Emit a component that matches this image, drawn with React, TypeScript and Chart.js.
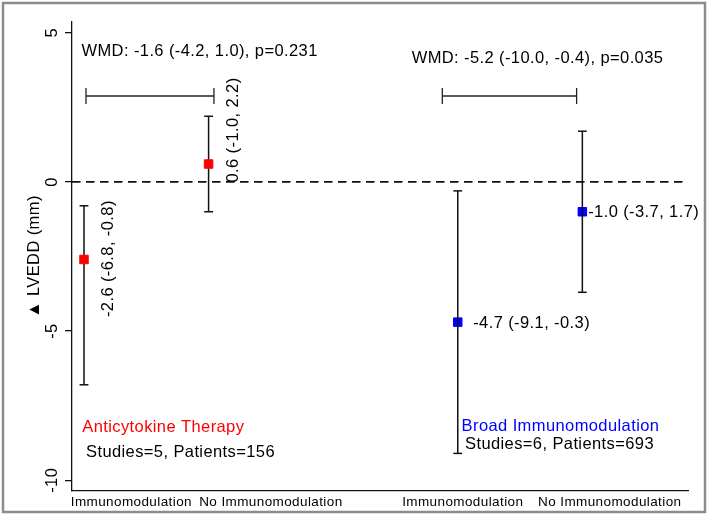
import React, { useEffect, useRef } from 'react';
import { Chart, registerables } from 'chart.js';

Chart.register(...registerables);

// ---- data ----
const groupLabels = ['Immunomodulation', 'No Immunomodulation', 'Immunomodulation', 'No Immunomodulation'];
const groupLabelPositions = [1.38, 2.5, 4.04, 5.22];
const armPositions = [1, 2, 4, 5];
const estimates = [-2.6, 0.6, -4.7, -1.0];
const lowerCI = [-6.8, -1.0, -9.1, -3.7];
const upperCI = [-0.8, 2.2, -0.3, 1.7];
const armGroup = [0, 0, 1, 1];
const estimateLabels = ['-2.6 (-6.8, -0.8)', '0.6 (-1.0, 2.2)', '-4.7 (-9.1, -0.3)', '-1.0 (-3.7, 1.7)'];
const yTicks = [-10, -5, 0, 5];
const comparisonStarts = [1.016, 3.876];
const comparisonEnds = [2.043, 4.954];
const comparisonLevel = 2.88;
const wmdLabels = ['WMD: -1.6 (-4.2, 1.0), p=0.231', 'WMD: -5.2 (-10.0, -0.4), p=0.035'];
const therapyNames = ['Anticytokine Therapy', 'Broad Immunomodulation'];
const therapyCounts = ['Studies=5, Patients=156', 'Studies=6, Patients=693'];
const referenceValue = 0;

// ---- styles / layout ----
const X_MIN = 0.9037;
const X_MAX = 5.848;
const Y_MIN = -10.36;
const Y_MAX = 5.36;
const FONT = '"Liberation Sans", Arial, Helvetica, sans-serif';
const SPACING = '0.4px';
const INK = '#000000';
const TEXT_SIZE = 16.5;
const groupColors = ['#FF0000', '#0000FF'];

type Note = { text: string; x: number; y: number; color?: string; rotate?: boolean };
const notes: Note[] = [
  { text: wmdLabels[0], x: 0.98, y: 4.23 },
  { text: wmdLabels[1], x: 3.63, y: 3.975 },
  { text: estimateLabels[0], x: 1.23, y: -4.53, rotate: true },
  { text: estimateLabels[1], x: 2.236, y: -0.02, rotate: true },
  { text: estimateLabels[2], x: 4.124, y: -4.886 },
  { text: estimateLabels[3], x: 5.047, y: -1.166 },
  { text: therapyNames[0], x: 0.986, y: -8.371, color: groupColors[0] },
  { text: therapyCounts[0], x: 1.016, y: -9.219 },
  { text: therapyNames[1], x: 4.031, y: -8.338, color: groupColors[1] },
  { text: therapyCounts[1], x: 4.058, y: -8.951 },
];

const spacingPlugin = {
  id: 'spacing',
  beforeInit(chart: any) { (chart.ctx as any).letterSpacing = SPACING; },
  beforeLayout(chart: any) { (chart.ctx as any).letterSpacing = SPACING; },
  beforeDraw(chart: any) { (chart.ctx as any).letterSpacing = SPACING; },
};

const notesPlugin = {
  id: 'notes',
  afterDatasetsDraw(chart: any) {
    const { ctx, scales } = chart;
    ctx.save();
    (ctx as any).letterSpacing = SPACING;
    ctx.font = `${TEXT_SIZE}px ${FONT}`;
    ctx.textBaseline = 'alphabetic';
    ctx.textAlign = 'left';
    for (const n of notes) {
      const px = scales.x.getPixelForValue(n.x);
      const py = scales.y.getPixelForValue(n.y);
      ctx.fillStyle = n.color || INK;
      if (n.rotate) {
        ctx.save();
        ctx.translate(px, py);
        ctx.rotate(-Math.PI / 2);
        ctx.fillText(n.text, 0, 0);
        ctx.restore();
      } else {
        ctx.fillText(n.text, px, py);
      }
    }
    ctx.restore();
  },
};

const framePlugin = {
  id: 'frame',
  afterDraw(chart: any) {
    const { ctx } = chart;
    ctx.save();
    ctx.strokeStyle = '#8c8c8c';
    ctx.lineWidth = 2.5;
    ctx.strokeRect(3, 3, 702, 509);
    ctx.restore();
  },
};

function buildDatasets() {
  const ds: any[] = [];
  // markers
  [0, 1].forEach((g) => {
    ds.push({
      label: g === 0 ? 'Anticytokine' : 'Broad',
      data: armPositions
        .map((x, i) => ({ x, y: estimates[i], g: armGroup[i] }))
        .filter((p) => p.g === g)
        .map((p) => ({ x: p.x, y: p.y })),
      showLine: false,
      pointStyle: 'rect',
      pointRadius: 6,
      pointBackgroundColor: groupColors[g],
      pointBorderColor: groupColors[g],
      pointBorderWidth: 1,
      order: g === 0 ? 0 : 3,
    });
  });
  // confidence intervals
  armPositions.forEach((x, i) => {
    ds.push({
      label: 'ci' + i,
      data: [
        { x, y: lowerCI[i] },
        { x, y: upperCI[i] },
      ],
      showLine: true,
      borderColor: '#111111',
      borderWidth: 1.5,
      pointStyle: 'line',
      pointRadius: 4.4,
      pointBorderWidth: 1.5,
      pointBorderColor: '#111111',
      order: armGroup[i] === 0 ? 2 : 1,
    });
  });
  // comparison brackets
  comparisonStarts.forEach((s, k) => {
    ds.push({
      label: 'cmp' + k,
      data: [
        { x: s, y: comparisonLevel },
        { x: comparisonEnds[k], y: comparisonLevel },
      ],
      showLine: true,
      borderColor: '#222222',
      borderWidth: 1.3,
      pointStyle: 'line',
      pointRotation: 90,
      pointRadius: 8,
      pointBorderWidth: 1.3,
      pointBorderColor: '#222222',
      order: 4,
    });
  });
  // reference line
  ds.push({
    label: 'ref',
    data: [
      { x: X_MIN, y: referenceValue },
      { x: X_MAX, y: referenceValue },
    ],
    showLine: true,
    borderColor: '#111111',
    borderWidth: 1.6,
    borderDash: [8.5, 5.5],
    pointRadius: 0,
    order: 5,
  });
  return ds;
}

export default function App() {
  const ref = useRef<HTMLCanvasElement>(null);
  useEffect(() => {
    document.body.style.margin = '0';
    Chart.defaults.font.family = FONT;
    const canvas = ref.current!;
    const chart = new Chart(canvas, {
      type: 'scatter',
      data: { datasets: buildDatasets() },
      options: {
        animation: false,
        responsive: false,
        devicePixelRatio: 1,
        events: [],
        layout: { padding: { left: 0, right: 21, top: 22, bottom: 0 } },
        plugins: { legend: { display: false }, tooltip: { enabled: false } },
        scales: {
          x: {
            type: 'linear',
            min: X_MIN,
            max: X_MAX,
            afterBuildTicks: (s: any) => {
              s.ticks = groupLabelPositions.map((v) => ({ value: v }));
            },
            afterFit: (s: any) => {
              s.height = 25;
            },
            ticks: {
              autoSkip: false,
              minRotation: 0,
              maxRotation: 0,
              padding: 3,
              color: INK,
              font: { size: 13.5, family: FONT },
              callback: (_v: any, i: number) => groupLabels[i],
            },
            grid: { display: false, drawTicks: false },
            border: { display: true, color: '#111111', width: 1.3 },
          },
          y: {
            type: 'linear',
            min: Y_MIN,
            max: Y_MAX,
            afterBuildTicks: (s: any) => {
              s.ticks = yTicks.map((v) => ({ value: v }));
            },
            afterFit: (s: any) => {
              s.width = 72;
            },
            ticks: {
              minRotation: 90,
              maxRotation: 90,
              crossAlign: 'center',
              padding: 0,
              color: INK,
              font: { size: TEXT_SIZE, family: FONT },
              callback: (v: any) => String(v),
            },
            grid: {
              display: true,
              drawOnChartArea: false,
              drawTicks: true,
              tickLength: 7,
              color: '#111111',
              lineWidth: 1.3,
            },
            border: { display: true, color: '#111111', width: 1.3 },
            title: {
              display: true,
              text: '▲ LVEDD (mm)',
              color: INK,
              font: { size: TEXT_SIZE, family: FONT },
              padding: { top: 24.1, bottom: 0 },
            },
          },
        },
      } as any,
      plugins: [spacingPlugin, notesPlugin, framePlugin],
    });
    return () => chart.destroy();
  }, []);
  return (
    <div style={{ width: 709, height: 516 }}>
      <canvas ref={ref} width={709} height={516} style={{ display: 'block' }} />
    </div>
  );
}
